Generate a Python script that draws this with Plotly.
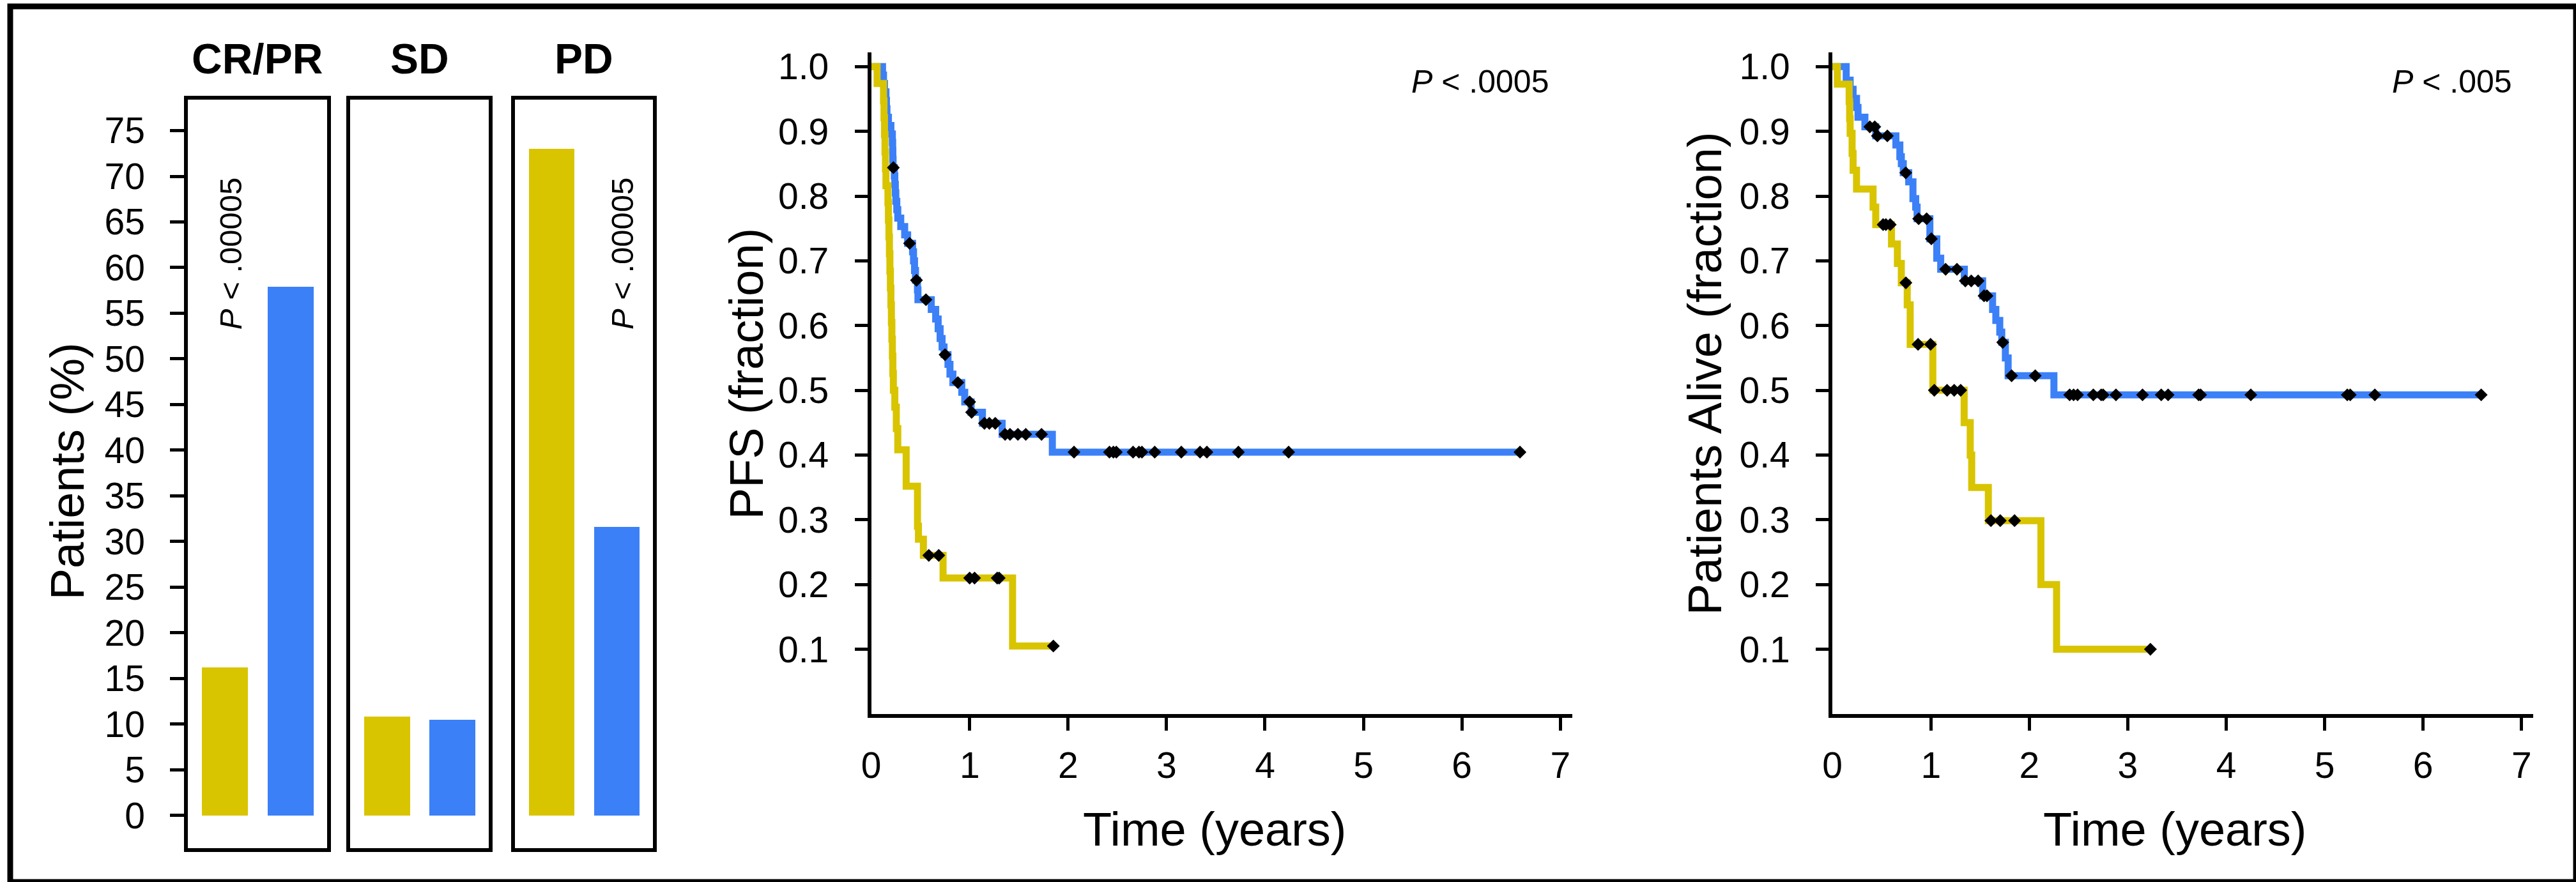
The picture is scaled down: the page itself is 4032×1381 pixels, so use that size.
import plotly.graph_objects as go

W, H = 4032, 1381
YELLOW = "#d9c400"
BLUE = "#3b80f7"
FONT = "Liberation Sans, Arial, Helvetica, sans-serif"

# ---------------- data: response bars (percent of patients) ----------------
response_categories = ["CR/PR", "SD", "PD"]
yellow_pct = [16.2, 10.8, 73.0]
blue_pct = [57.9, 10.5, 31.6]
bar_pvalue_text = ["<i>P</i> &lt; .00005", "", "<i>P</i> &lt; .00005"]
bar_pvalue_over = [0, None, 1]          # which bar the label sits above
bar_yticks = list(range(0, 80, 5))

# ---------------- data: PFS Kaplan-Meier ----------------
pfs_yellow_t = [0, 0.06, 0.125, 0.13, 0.135, 0.14, 0.145, 0.15, 0.17, 0.175, 0.18, 0.185,
                0.19, 0.195, 0.20, 0.205, 0.21, 0.215, 0.22, 0.225, 0.24, 0.255, 0.27,
                0.355, 0.47, 0.48, 0.53, 0.73, 1.436, 1.85]
pfs_yellow_s = [1.0, 0.974, 0.947, 0.921, 0.895, 0.868, 0.842, 0.816, 0.79, 0.763, 0.737, 0.711,
                0.684, 0.658, 0.632, 0.605, 0.579, 0.553, 0.526, 0.50, 0.474, 0.441, 0.408,
                0.352, 0.29, 0.27, 0.245, 0.21, 0.105, 0.105]
pfs_yellow_cens = [0.585, 0.686, 1.0, 1.05, 1.28, 1.30, 1.85]

pfs_blue_t = [0, 0.115, 0.125, 0.135, 0.15, 0.155, 0.16, 0.175, 0.20, 0.215, 0.218, 0.22, 0.222,
              0.235, 0.24, 0.245, 0.25, 0.26, 0.27, 0.30, 0.34, 0.37, 0.42, 0.43, 0.44, 0.45,
              0.47, 0.475, 0.61, 0.655, 0.68, 0.70, 0.72, 0.74, 0.78, 0.80, 0.83, 0.92, 0.95,
              1.015, 1.13, 1.33, 1.84, 6.59]
pfs_blue_s = [1.0, 0.987, 0.974, 0.961, 0.948, 0.935, 0.922, 0.909, 0.896, 0.883, 0.870, 0.857, 0.844,
              0.831, 0.818, 0.805, 0.792, 0.779, 0.766, 0.753, 0.740, 0.727, 0.714, 0.70, 0.685, 0.67,
              0.655, 0.64, 0.625, 0.61, 0.595, 0.58, 0.567, 0.555, 0.54, 0.525, 0.512, 0.497, 0.482,
              0.466, 0.449, 0.432, 0.4045, 0.4045]
pfs_blue_cens = [0.225, 0.39, 0.46, 0.556, 0.75, 0.88, 1.0, 1.02, 1.15, 1.20, 1.26, 1.36, 1.41,
                 1.49, 1.57, 1.73, 2.06, 2.42, 2.46, 2.49, 2.66, 2.72, 2.75, 2.88, 3.15, 3.34,
                 3.41, 3.73, 4.24, 6.59]

# ---------------- data: overall survival Kaplan-Meier ----------------
os_yellow_t = [0, 0.05, 0.17, 0.175, 0.18, 0.20, 0.21, 0.245, 0.413, 0.44, 0.60, 0.66, 0.70,
               0.76, 0.79, 1.02, 1.338, 1.40, 1.415, 1.584, 2.118, 2.277, 3.23]
os_yellow_s = [1.0, 0.973, 0.946, 0.92, 0.897, 0.866, 0.84, 0.811, 0.783, 0.756, 0.726, 0.696, 0.666,
               0.632, 0.571, 0.50, 0.45, 0.40, 0.35, 0.2987, 0.20, 0.10, 0.10]
os_yellow_cens = [0.515, 0.543, 0.587, 0.746, 0.87, 0.997, 1.035, 1.165, 1.237, 1.303, 1.61,
                  1.705, 1.85, 3.23]

os_blue_t = [0, 0.14, 0.18, 0.21, 0.245, 0.26, 0.33, 0.44, 0.645, 0.685, 0.70, 0.72, 0.775, 0.818,
             0.846, 0.86, 0.99, 1.06, 1.10, 1.34, 1.526, 1.627, 1.66, 1.70, 1.72, 1.757, 1.785,
             2.25, 6.59]
os_blue_s = [1.0, 0.979, 0.965, 0.951, 0.937, 0.922, 0.907, 0.893, 0.879, 0.861, 0.85, 0.836, 0.822,
             0.796, 0.783, 0.765, 0.734, 0.704, 0.687, 0.669, 0.646, 0.625, 0.608, 0.59, 0.574, 0.55,
             0.5225, 0.493, 0.493]
os_blue_cens = [0.38, 0.43, 0.457, 0.558, 0.745, 0.876, 0.957, 1.005, 1.15, 1.265, 1.35, 1.41, 1.48,
                1.54, 1.57, 1.73, 1.82, 2.06, 2.41, 2.45, 2.49, 2.65, 2.73, 2.75, 2.88, 3.15, 3.34,
                3.41, 3.72, 3.74, 4.25, 5.23, 5.26, 5.51, 6.59]

km_xticks = list(range(0, 8))
km_yticks = [round(0.1 * i, 1) for i in range(1, 11)]

pfs_p_text = "<i>P</i> &lt; .0005"
os_p_text = "<i>P</i> &lt; .005"


def step_value(ts, ss, t):
    v = ss[0]
    for ti, si in zip(ts, ss):
        if ti <= t:
            v = si
    return v


def px(x):
    return x / W


def py(y):
    return 1 - y / H


fig = go.Figure()

# ---------------- bar panels ----------------
bar_x_domains = [(279.5, 498), (534.5, 752), (793, 1010)]
bar_top, bar_bottom = 147, 1328
bar_range = [-3.61, 78.4]
bar_xrange = [-0.565, 1.555]

for i, cat in enumerate(response_categories):
    xa = "x" if i == 0 else f"x{i + 1}"
    ya = "y" if i == 0 else f"y{i + 1}"
    fig.add_trace(go.Bar(x=[0, 1], y=[yellow_pct[i], blue_pct[i]], width=0.70,
                         marker=dict(color=[YELLOW, BLUE], line=dict(width=0)),
                         xaxis=xa, yaxis=ya, showlegend=False, hoverinfo="skip"))
    if bar_pvalue_text[i]:
        fig.add_annotation(x=bar_pvalue_over[i] * 1.0 + 0.08, y=61.5, xref=xa, yref=ya,
                           text=bar_pvalue_text[i], textangle=-90, showarrow=False,
                           font=dict(family=FONT, size=49, color="black"),
                           xanchor="center", yanchor="middle")

axis_common = dict(showline=True, linecolor="black", linewidth=6, showgrid=False,
                   zeroline=False, fixedrange=True)

layout = dict(width=W, height=H, margin=dict(l=0, r=0, t=0, b=0),
              paper_bgcolor="white", plot_bgcolor="white", showlegend=False,
              font=dict(family=FONT, color="black"), bargap=0)

for i, (x0, x1) in enumerate(bar_x_domains):
    xkey = "xaxis" if i == 0 else f"xaxis{i + 1}"
    ykey = "yaxis" if i == 0 else f"yaxis{i + 1}"
    xa = "x" if i == 0 else f"x{i + 1}"
    ya = "y" if i == 0 else f"y{i + 1}"
    layout[xkey] = dict(axis_common, domain=[px(x0), px(x1)], range=bar_xrange, mirror=True,
                        anchor=ya, showticklabels=False, ticks="")
    ydict = dict(axis_common, domain=[py(bar_bottom), py(bar_top)], range=bar_range, mirror=True,
                 anchor=xa)
    if i == 0:
        ydict.update(tickvals=bar_yticks, ticks="outside", ticklen=22, tickwidth=5,
                     tickcolor="black", tickfont=dict(family=FONT, size=57, color="black"),
                     ticklabelstandoff=28)
    else:
        ydict.update(showticklabels=False, ticks="")
    layout[ykey] = ydict

# ---------------- KM panels ----------------
km_top, km_bottom = 72.5, 1116
km_xrange = [0, 7.12]
km_yrange = [0, (km_bottom - km_top) / 1021.0]
km_panels = [
    dict(x0=1353, xa="x4", ya="y4", xl="x6", key="4", lab="6",
         curves=[(pfs_blue_t, pfs_blue_s, BLUE, pfs_blue_cens),
                 (pfs_yellow_t, pfs_yellow_s, YELLOW, pfs_yellow_cens)]),
    dict(x0=2863.5, xa="x5", ya="y5", xl="x7", key="5", lab="7",
         curves=[(os_blue_t, os_blue_s, BLUE, os_blue_cens),
                 (os_yellow_t, os_yellow_s, YELLOW, os_yellow_cens)]),
]
for p in km_panels:
    x0 = p["x0"]
    x1 = x0 + (km_xrange[1] - km_xrange[0]) * 154.7
    layout["xaxis" + p["key"]] = dict(axis_common, domain=[px(x0), px(x1)], range=km_xrange,
                                     anchor=p["ya"], tickvals=km_xticks[1:], ticks="outside",
                                     ticklen=20, tickwidth=5, tickcolor="black",
                                     showticklabels=False)
    layout["xaxis" + p["lab"]] = dict(overlaying=p["xa"], anchor=p["ya"], range=km_xrange,
                                     showline=False, showgrid=False, zeroline=False,
                                     tickvals=km_xticks, ticks="", side="bottom",
                                     ticklabelstandoff=42,
                                     tickfont=dict(family=FONT, size=57, color="black"))
    layout["yaxis" + p["key"]] = dict(axis_common, domain=[py(km_bottom), py(km_top)],
                                     range=km_yrange, anchor=p["xa"], tickvals=km_yticks,
                                     ticktext=[f"{v:.1f}" for v in km_yticks],
                                     ticks="outside", ticklen=20, tickwidth=5, tickcolor="black",
                                     tickfont=dict(family=FONT, size=57, color="black"),
                                     ticklabelstandoff=29)
    for ts, ss, col, cens in p["curves"]:
        fig.add_trace(go.Scatter(x=ts, y=ss, mode="lines", xaxis=p["xa"], yaxis=p["ya"],
                                 line=dict(shape="hv", color=col, width=11),
                                 hoverinfo="skip"))
    for ts, ss, col, cens in p["curves"]:
        fig.add_trace(go.Scatter(x=cens, y=[step_value(ts, ss, t) for t in cens], mode="markers",
                                 xaxis=p["xl"], yaxis=p["ya"],
                                 marker=dict(symbol="diamond", size=15.5, color="black"),
                                 hoverinfo="skip"))

# ---------------- text ----------------
ann = []
centers = [388.5, 643.5, 901.5]
for c, cat in zip(centers, response_categories):
    ann.append(dict(x=px(c), y=py(83), text=f"<b>{cat}</b>",
                    font=dict(family=FONT, size=66, color="black")))
ann.append(dict(x=px(90), y=py(733), text="Patients (%)", textangle=-90,
                font=dict(family=FONT, size=74, color="black")))
ann.append(dict(x=px(1157), y=py(579), text="PFS (fraction)", textangle=-90,
                font=dict(family=FONT, size=74, color="black")))
ann.append(dict(x=px(2663), y=py(579), text="Patients Alive (fraction)", textangle=-90,
                font=dict(family=FONT, size=74, color="black")))
ann.append(dict(x=px(1893), y=py(1298), text="Time (years)",
                font=dict(family=FONT, size=74, color="black")))
ann.append(dict(x=px(3402), y=py(1298), text="Time (years)",
                font=dict(family=FONT, size=74, color="black")))
ann.append(dict(x=px(2420), y=py(119), text=pfs_p_text, xanchor="right",
                font=dict(family=FONT, size=50, color="black")))
ann.append(dict(x=px(3934), y=py(119), text=os_p_text, xanchor="right",
                font=dict(family=FONT, size=50, color="black")))
for a in ann:
    a.setdefault("xanchor", "center")
    a.update(xref="paper", yref="paper", yanchor="middle", showarrow=False)
    fig.add_annotation(**a)

layout["shapes"] = [dict(type="rect", xref="paper", yref="paper", x0=0, y0=0, x1=1, y1=1,
                         line=dict(color="black", width=9), fillcolor="rgba(0,0,0,0)")]
fig.update_layout(**layout)
fig.write_html("out.html", config={"displayModeBar": False},
               post_script="document.body.style.margin='0';document.body.style.overflow='hidden';")
